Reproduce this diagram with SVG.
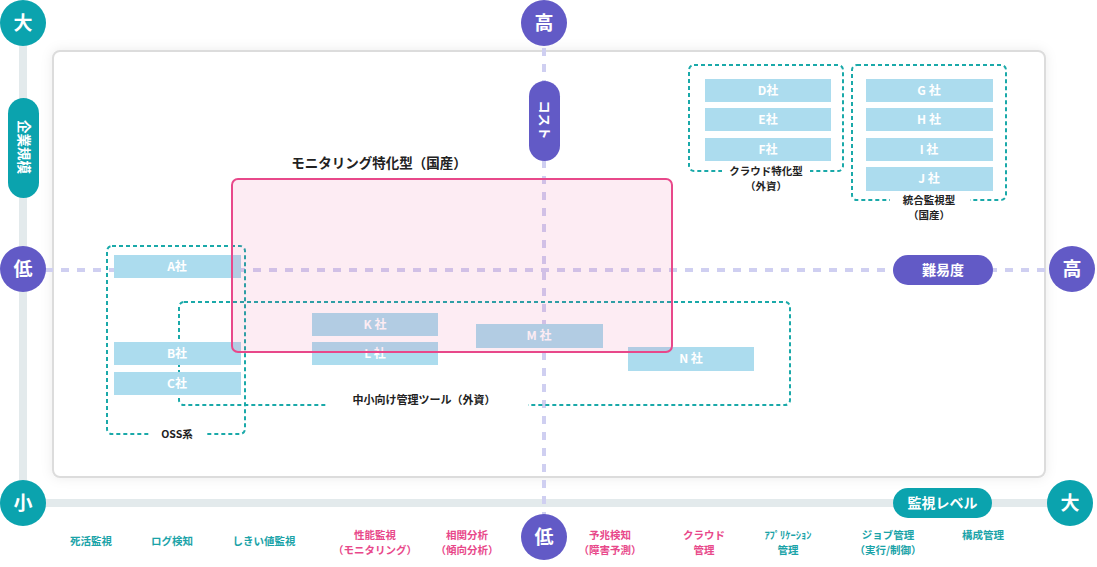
<svg xmlns="http://www.w3.org/2000/svg" width="1097" height="567" viewBox="0 0 1097 567">
<defs>
<filter id="sh" x="-5%" y="-5%" width="110%" height="110%"><feDropShadow dx="0" dy="0" stdDeviation="6" flood-color="#000" flood-opacity="0.08"/></filter>
<style>
text{font-family:"Noto Sans CJK JP","Noto Sans",sans-serif;font-weight:bold;text-anchor:middle}
.axis{fill:#e3eaec}
.teal{fill:#0ba3ae}
.purp{fill:#625ac6}
.cw{fill:#fff;font-size:19px}
.pl{fill:#fff;font-size:14px}
.co rect{fill:#acdcee}
.co text{fill:#fff;font-size:12px}
.grp{fill:none;stroke:#1aa9a9;stroke-width:2;stroke-dasharray:4 3}
.gl{fill:#222;font-size:10.5px}
.dash{stroke:#cfcff1;stroke-width:4;stroke-dasharray:8 8;fill:none}
.bt{font-size:10.5px}
.bt.t{fill:#1aa3a8}
.bt.p{fill:#e8488a}
</style>
</defs>
<rect x="53" y="51" width="992" height="426" rx="7" fill="#fff" stroke="#dcdcdc" stroke-width="2" filter="url(#sh)"/>
<g id="axes">
<rect class="axis" x="19" y="24" width="8" height="480"/>
<rect class="axis" x="23" y="499" width="1047" height="8"/>
<line class="dash" x1="544" y1="48" x2="544" y2="520"/>
<line class="dash" x1="45" y1="270" x2="1050" y2="270"/>
</g>
<g id="axis-left-top"><circle class="teal" cx="23" cy="23" r="23"/><text class="cw" x="23" y="30">大</text></g>
<g id="axis-left-label"><rect class="teal" x="8" y="98" width="31" height="100" rx="15.5"/><text class="pl" transform="translate(23.5,147) rotate(90)" y="5" style="font-size:13.5px">企業規模</text></g>
<g id="axis-left-low"><circle class="purp" cx="23" cy="269" r="23"/><text class="cw" x="23" y="276">低</text></g>
<g id="axis-left-bottom"><circle class="teal" cx="23" cy="503" r="23"/><text class="cw" x="23" y="510">小</text></g>
<g id="axis-bottom-right"><circle class="teal" cx="1070" cy="503" r="23"/><text class="cw" x="1070" y="510">大</text></g>
<g id="axis-bottom-label"><rect class="teal" x="893" y="488" width="99" height="30" rx="15"/><text class="pl" x="942.5" y="508">監視レベル</text></g>
<g id="axis-top-high"><circle class="purp" cx="544" cy="23" r="23"/><text class="cw" x="544" y="30">高</text></g>
<g id="axis-cost"><rect class="purp" x="529" y="81" width="31" height="80" rx="15.5"/><text class="pl" transform="translate(544.5,120) rotate(90)" y="5" style="font-size:13px">コスト</text></g>
<g id="axis-bottom-low"><circle class="purp" cx="544" cy="537" r="23"/><text class="cw" x="544" y="544">低</text></g>
<g id="axis-diff"><rect class="purp" x="893" y="255" width="100" height="30" rx="15"/><text class="pl" x="943" y="275">難易度</text></g>
<g id="axis-right-high"><circle class="purp" cx="1072" cy="269" r="23"/><text class="cw" x="1072" y="276">高</text></g>

<g id="group-oss"><rect class="grp" x="107" y="246" width="138" height="188" rx="5"/><rect x="150" y="428" width="55" height="12" fill="#fff"/><text class="gl" x="177" y="438">OSS系</text></g>
<g id="group-smb"><rect class="grp" x="179" y="302" width="611" height="103" rx="5"/><rect x="326" y="398" width="202" height="12" fill="#fff"/><text class="gl" x="424" y="404" style="font-size:11px">中小向け管理ツール（外資）</text></g>
<g id="group-cloud"><rect class="grp" x="689" y="65" width="154" height="106" rx="5"/><rect x="722" y="165" width="88" height="12" fill="#fff"/><text class="gl" x="766" y="175">クラウド特化型</text><text class="gl" x="766" y="190">（外資）</text></g>
<g id="group-integrated"><rect class="grp" x="852" y="65" width="154" height="135" rx="5"/><rect x="890" y="194" width="80" height="12" fill="#fff"/><text class="gl" x="929" y="204">統合監視型</text><text class="gl" x="929" y="219">（国産）</text></g>

<g id="companies" class="co">
<rect x="114" y="255" width="127" height="23"/><text x="177" y="271">A社</text>
<rect x="114" y="342" width="127" height="23"/><text x="177" y="358">B社</text>
<rect x="114" y="372" width="127" height="23"/><text x="177" y="388">C社</text>
<rect x="312" y="313" width="126" height="23"/><text x="375" y="329">K 社</text>
<rect x="312" y="342" width="126" height="23"/><text x="375" y="358">L 社</text>
<rect x="476" y="324" width="127" height="24"/><text x="539" y="340">M 社</text>
<rect x="628" y="347" width="126" height="24"/><text x="691" y="363">N 社</text>
<rect x="705" y="79" width="126" height="23"/><text x="768" y="95">D社</text>
<rect x="705" y="108" width="126" height="23"/><text x="768" y="124">E社</text>
<rect x="705" y="138" width="126" height="23"/><text x="768" y="154">F社</text>
<rect x="866" y="79" width="127" height="23"/><text x="929" y="95">G 社</text>
<rect x="866" y="108" width="127" height="23"/><text x="929" y="124">H 社</text>
<rect x="866" y="138" width="127" height="23"/><text x="929" y="154">I 社</text>
<rect x="866" y="167" width="127" height="24"/><text x="929" y="183">J 社</text>
</g>

<g id="group-monitoring"><rect x="232" y="179" width="440" height="173" rx="6" fill="#e8488a" fill-opacity="0.1" stroke="#e8488a" stroke-width="2"/><text x="379" y="168" fill="#222" style="font-size:13.5px">モニタリング特化型（国産）</text></g>

<g id="bottom-labels">
<text class="bt t" x="91" y="545">死活監視</text>
<text class="bt t" x="172" y="545">ログ検知</text>
<text class="bt t" x="264" y="545">しきい値監視</text>
<text class="bt p" x="375" y="539">性能監視</text><text class="bt p" x="375" y="554">（モニタリング）</text>
<text class="bt p" x="467" y="539">相関分析</text><text class="bt p" x="467" y="554">（傾向分析）</text>
<text class="bt p" x="610" y="539">予兆検知</text><text class="bt p" x="610" y="554">（障害予測）</text>
<text class="bt p" x="704" y="539">クラウド</text><text class="bt p" x="704" y="554">管理</text>
<text class="bt t" x="788" y="539">ｱﾌﾟﾘｹｰｼｮﾝ</text><text class="bt t" x="788" y="554">管理</text>
<text class="bt t" x="888" y="539">ジョブ管理</text><text class="bt t" x="888" y="554">（実行/制御）</text>
<text class="bt t" x="983" y="539">構成管理</text>
</g>
</svg>
